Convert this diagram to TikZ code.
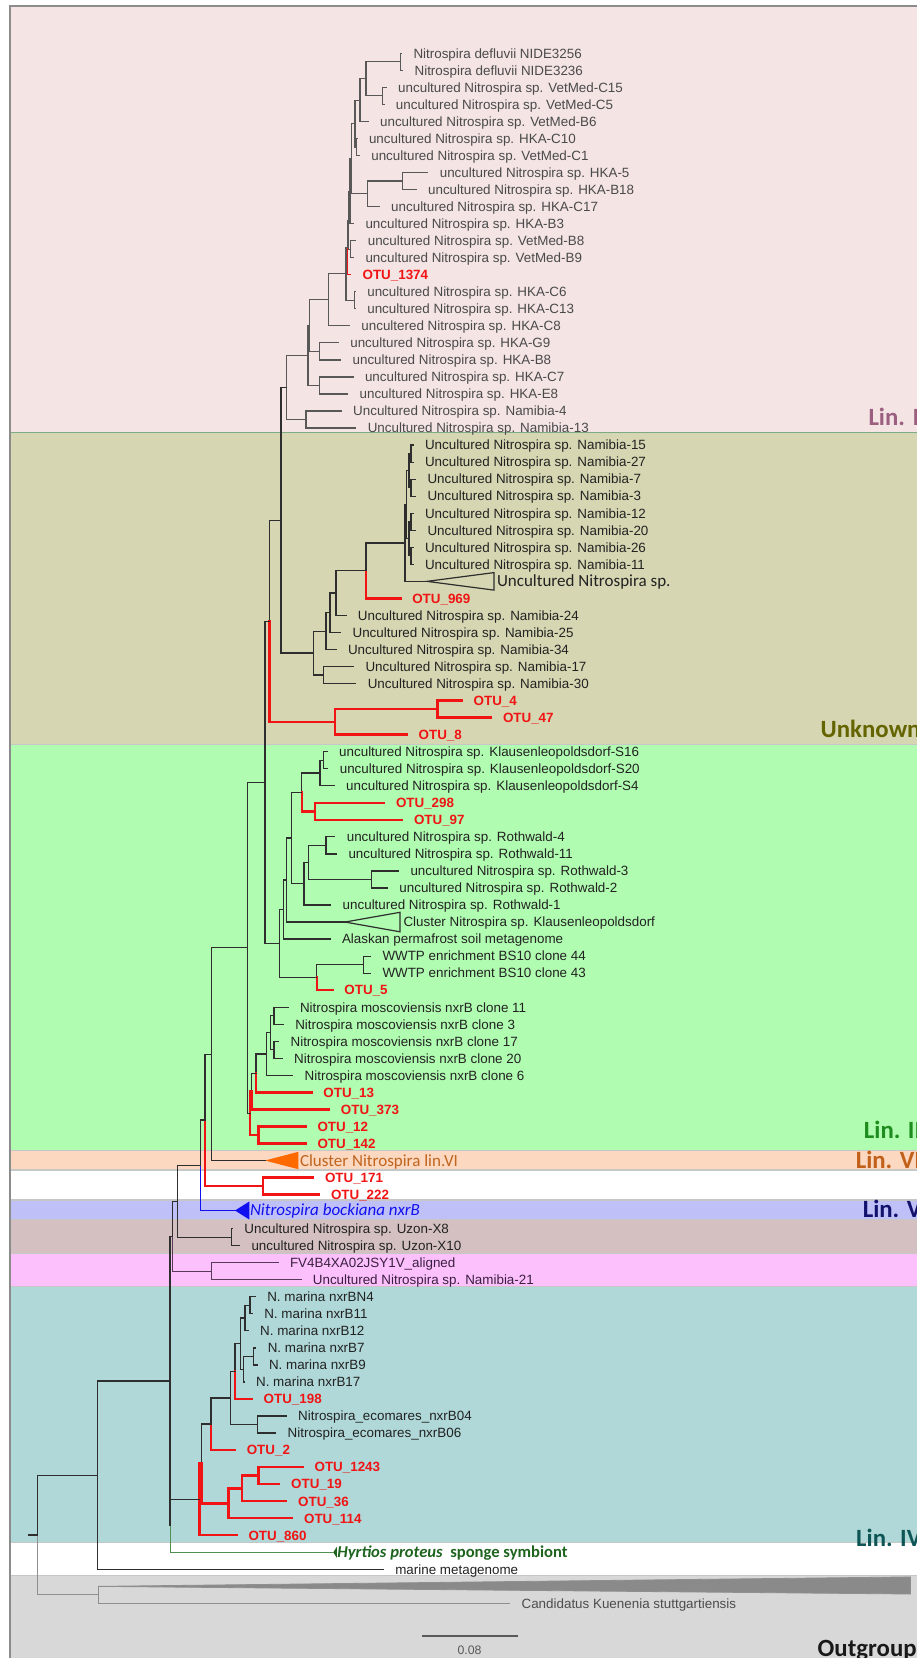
\documentclass[tikz,border=0pt]{standalone}
\usepackage{fontspec}
\setmainfont{Liberation Sans}
\newfontfamily\carl{Carlito}
\usetikzlibrary{calc}
\definecolor{txt}{HTML}{222222}
\definecolor{txtg}{HTML}{4A4A4A}
\definecolor{ln}{HTML}{2E2E2E}
\definecolor{lng}{HTML}{585858}
\definecolor{otured}{HTML}{F01414}
\definecolor{bLI}{HTML}{F4E4E4}
\definecolor{bUN}{HTML}{D6D6B2}
\definecolor{bLII}{HTML}{B0FCB0}
\definecolor{bLVI}{HTML}{FCD8C0}
\definecolor{bLV}{HTML}{C0C0F8}
\definecolor{bBR}{HTML}{D4C0C0}
\definecolor{bMG}{HTML}{FCC0FC}
\definecolor{bLIV}{HTML}{B0D8D8}
\definecolor{bOG}{HTML}{D8D8D8}
\definecolor{cLI}{HTML}{9C5F7F}
\definecolor{cUN}{HTML}{646400}
\definecolor{cLII}{HTML}{1E8C1E}
\definecolor{cLVI}{HTML}{C0601A}
\definecolor{cLV}{HTML}{12126E}
\definecolor{cLIV}{HTML}{0E5656}
\definecolor{orgtri}{HTML}{FF6A00}
\definecolor{orgtxt}{HTML}{C0641E}
\definecolor{blu}{HTML}{1010F0}
\definecolor{grn}{HTML}{4F8F4F}
\definecolor{grntxt}{HTML}{1E641E}
\definecolor{ogl}{HTML}{8F8F8F}
\definecolor{ogf}{HTML}{8A8A8A}
\definecolor{purp}{HTML}{3A2040}
\definecolor{purpl}{HTML}{5A3A5A}
\newcommand\tnd[4]{\path let \p1=($(#3)!.5!(#4)$) in (#2pt,\y1) coordinate (#1);}
\newcommand\tbr[3][]{\draw[tl,#1] (#2) |- (#3);}
\newcommand\tnn[5][]{\tnd{#2}{#3}{#4}{#5}\tbr[#1]{#2}{#4}\tbr[#1]{#2}{#5}}
\newcommand\tlf[5][]{\node[lfs,#1] (#2) at ({#4-12},{53.3+17.034*#3}) {#5};}
\tikzset{
  lfs/.style={anchor=west, inner xsep=12pt, inner ysep=0pt, outer sep=0pt,
    text height=9.6pt, text depth=0pt, font=\fontsize{13.4}{15}\selectfont, text=txt},
  gt/.style={text=txtg},
  pt/.style={text=purp},
  otu/.style={text=otured, font=\fontsize{13.4}{15}\selectfont\bfseries},
  bigl/.style={anchor=west, inner sep=0pt, outer sep=0pt, text height=11pt, text depth=0pt,
    font=\carl\fontsize{17}{19}\selectfont},
  tl/.style={draw=ln, line width=1.2pt, line cap=rect},
  gl/.style={draw=lng},
  pl/.style={draw=purpl},
  rd/.style={draw=otured, line width=2.4pt},
  rdt/.style={draw=otured, line width=1.3pt},
  bl/.style={draw=blu},
  gn/.style={draw=grn},
  og/.style={draw=ogl},
  lab/.style={anchor=base west, inner sep=0pt, font=\carl\bfseries\fontsize{24.8}{26}\selectfont},
  bnd/.style={draw=black!22, line width=1.2pt},
}
\begin{document}
\begin{tikzpicture}[x=1pt,y=-1pt]
\useasboundingbox (0,0) rectangle (917,1658);
% ---------- bands ----------
\fill[bLI] (10,6) rectangle (917,432.3);
\fill[bUN] (10,432.3) rectangle (917,744.3);
\fill[bLII] (10,744.3) rectangle (917,1150.7);
\fill[bLVI] (10,1150.7) rectangle (917,1170);
\fill[bLV] (10,1200) rectangle (917,1219.3);
\fill[bBR] (10,1219.3) rectangle (917,1253.7);
\fill[bMG] (10,1253.7) rectangle (917,1286.7);
\fill[bLIV] (10,1286.7) rectangle (917,1542.7);
\fill[bOG] (10,1575.7) rectangle (917,1658);
\foreach \yy in {744.3,1150.7,1170,1200,1219.3,1253.7,1286.7,1542.7,1575.7}
  \draw[bnd] (10,\yy) -- (917,\yy);
\draw[draw={rgb,255:red,125;green,170;blue,135}, line width=1.2pt] (10,432.3) -- (917,432.3);
\draw[draw=black!45, line width=2pt] (10,1658) -- (10,6) -- (917,6);
% ---------- lineage labels ----------
\node[lab, text=cLI] (labI) at (868.3,425) {Lin. I};
\node[lab, text=cUN] (labU) at (820.5,737) {Unknown};
\node[lab, text=cLII] (labII) at (863.7,1138.3) {Lin. II};
\node[lab, text=cLVI] (labVI) at (855.6,1168.5) {Lin. VI};
\node[lab, text=cLV] (labV) at (862.6,1217) {Lin. V};
\node[lab, text=cLIV] (labIV) at (856,1546.5) {Lin. IV};
\node[lab, text=black!90] (labO) at (817.5,1656.5) {Outgroup};
% ---------- leaves: Lin I ----------
\tlf[gt]{l0}{0}{413.5}{Nitrospira defluvii NIDE3256}
\tlf[gt]{l1}{1}{414.6}{Nitrospira defluvii NIDE3236}
\tlf[gt]{l2}{2}{398.2}{uncultured Nitrospira sp. VetMed-C15}
\tlf[gt]{l3}{3}{395.9}{uncultured Nitrospira sp. VetMed-C5}
\tlf[gt]{l4}{4}{380.1}{uncultured Nitrospira sp. VetMed-B6}
\tlf[gt]{l5}{5}{369.0}{uncultured Nitrospira sp. HKA-C10}
\tlf[gt]{l6}{6}{371.3}{uncultured Nitrospira sp. VetMed-C1}
\tlf[gt]{l7}{7}{439.8}{uncultured Nitrospira sp. HKA-5}
\tlf[gt]{l8}{8}{428.1}{uncultured Nitrospira sp. HKA-B18}
\tlf[gt]{l9}{9}{391.2}{uncultured Nitrospira sp. HKA-C17}
\tlf[gt]{l10}{10}{365.5}{uncultured Nitrospira sp. HKA-B3}
\tlf[gt]{l11}{11}{367.8}{uncultured Nitrospira sp. VetMed-B8}
\tlf[gt]{l12}{12}{365.5}{uncultured Nitrospira sp. VetMed-B9}
\tlf[otu]{l13}{13}{362.6}{OTU\_1374}
\tlf[gt]{l14}{14}{367.3}{uncultured Nitrospira sp. HKA-C6}
\tlf[gt]{l15}{15}{367.3}{uncultured Nitrospira sp. HKA-C13}
\tlf[gt]{l16}{16}{361.4}{uncultered Nitrospira sp. HKA-C8}
\tlf[gt]{l17}{17}{350.3}{uncultured Nitrospira sp. HKA-G9}
\tlf[gt]{l18}{18}{352.6}{uncultured Nitrospira sp. HKA-B8}
\tlf[gt]{l19}{19}{365.0}{uncultured Nitrospira sp. HKA-C7}
\tlf[gt]{l20}{20}{359.6}{uncultured Nitrospira sp. HKA-E8}
\tlf[gt]{l21}{21}{353.2}{Uncultured Nitrospira sp. Namibia-4}
\tlf[gt]{l22}{22}{367.8}{Uncultured Nitrospira sp. Namibia-13}
% ---------- leaves: Unknown ----------
\tlf{l23}{23}{425}{Uncultured Nitrospira sp. Namibia-15}
\tlf{l24}{24}{425}{Uncultured Nitrospira sp. Namibia-27}
\tlf{l25}{25}{427.5}{Uncultured Nitrospira sp. Namibia-7}
\tlf{l26}{26}{427.5}{Uncultured Nitrospira sp. Namibia-3}
\tlf{l27}{27}{425}{Uncultured Nitrospira sp. Namibia-12}
\tlf{l28}{28}{427.5}{Uncultured Nitrospira sp. Namibia-20}
\tlf{l29}{29}{425}{Uncultured Nitrospira sp. Namibia-26}
\tlf{l30}{30}{425}{Uncultured Nitrospira sp. Namibia-11}
\node[bigl, text=txt] (l31) at (497,581.35) {Uncultured Nitrospira sp.};
\coordinate (t31) at (427,581.35);
\draw[tl, line cap=butt, line join=miter] (t31) -- (494,572.6) -- (494,590.1) -- cycle;
\tlf[otu]{l32}{32}{412.3}{OTU\_969}
\tlf{l33}{33}{357.9}{Uncultured Nitrospira sp. Namibia-24}
\tlf{l34}{34}{352.6}{Uncultured Nitrospira sp. Namibia-25}
\tlf{l35}{35}{348}{Uncultured Nitrospira sp. Namibia-34}
\tlf{l36}{36}{365.5}{Uncultured Nitrospira sp. Namibia-17}
\tlf{l37}{37}{367.8}{Uncultured Nitrospira sp. Namibia-30}
\tlf[otu]{l38}{38}{473.7}{OTU\_4}
\tlf[otu]{l39}{39}{503}{OTU\_47}
\tlf[otu]{l40}{40}{418.7}{OTU\_8}
% ---------- leaves: Lin II ----------
\tlf{l41}{41}{339.2}{uncultured Nitrospira sp. Klausenleopoldsdorf-S16}
\tlf{l42}{42}{339.8}{uncultured Nitrospira sp. Klausenleopoldsdorf-S20}
\tlf{l43}{43}{346.2}{uncultured Nitrospira sp. Klausenleopoldsdorf-S4}
\tlf[otu]{l44}{44}{396}{OTU\_298}
\tlf[otu]{l45}{45}{414}{OTU\_97}
\tlf{l46}{46}{346.8}{uncultured Nitrospira sp. Rothwald-4}
\tlf{l47}{47}{348.5}{uncultured Nitrospira sp. Rothwald-11}
\tlf{l48}{48}{410.5}{uncultured Nitrospira sp. Rothwald-3}
\tlf{l49}{49}{399.4}{uncultured Nitrospira sp. Rothwald-2}
\tlf{l50}{50}{342.7}{uncultured Nitrospira sp. Rothwald-1}
\node[lfs, inner xsep=0pt] (l51) at (403.5,922.03) {Cluster Nitrospira sp. Klausenleopoldsdorf};
\coordinate (t51) at (345,922.03);
\draw[tl, line cap=butt, line join=miter] (t51) -- (400,912.3) -- (400,931.8) -- cycle;
\tlf{l52}{52}{342}{Alaskan permafrost soil metagenome}
\tlf{l53}{53}{382.5}{WWTP enrichment BS10 clone 44}
\tlf{l54}{54}{382.5}{WWTP enrichment BS10 clone 43}
\tlf[otu]{l55}{55}{344.4}{OTU\_5}
\tlf{l56}{56}{300}{Nitrospira moscoviensis nxrB clone 11}
\tlf{l57}{57}{295.3}{Nitrospira moscoviensis nxrB clone 3}
\tlf{l58}{58}{290.6}{Nitrospira moscoviensis nxrB clone 17}
\tlf{l59}{59}{294.2}{Nitrospira moscoviensis nxrB clone 20}
\tlf{l60}{60}{304.7}{Nitrospira moscoviensis nxrB clone 6}
\tlf[otu]{l61}{61}{323.4}{OTU\_13}
\tlf[otu]{l62}{62}{340.9}{OTU\_373}
\tlf[otu]{l63}{63}{317.5}{OTU\_12}
\tlf[otu]{l64}{64}{317.5}{OTU\_142}
% ---------- Lin VI / V / others ----------
\node[bigl, text=orgtxt] (l65) at (300,1160.51) {Cluster Nitrospira lin.VI};
\coordinate (t65) at (265,1160.51);
\fill[orgtri] (t65) -- (298.3,1151.8) -- (298.3,1169.2) -- cycle;
\tlf[otu]{l66}{66}{325}{OTU\_171}
\tlf[otu]{l67}{67}{331}{OTU\_222}
\node[bigl, text=blu, font=\carl\itshape\fontsize{17}{19}\selectfont] (l68) at (250,1210) {Nitrospira bockiana nxrB};
\coordinate (t68) at (235,1210.5);
\fill[blu] (t68) -- (249.3,1201.5) -- (249.3,1219.5) -- cycle;
\tlf{l69}{69}{244.4}{Uncultured Nitrospira sp. Uzon-X8}
\tlf{l70}{70}{251.5}{uncultured Nitrospira sp. Uzon-X10}
\tlf[pt]{l71}{71}{290}{FV4B4XA02JSY1V\_aligned}
\tlf[pt]{l72}{72}{312.9}{Uncultured Nitrospira sp. Namibia-21}
% ---------- leaves: Lin IV ----------
\tlf{l73}{73}{267.3}{N. marina nxrBN4}
\tlf{l74}{74}{264.3}{N. marina nxrB11}
\tlf{l75}{75}{260.2}{N. marina nxrB12}
\tlf{l76}{76}{267.8}{N. marina nxrB7}
\tlf{l77}{77}{269}{N. marina nxrB9}
\tlf{l78}{78}{256.1}{N. marina nxrB17}
\tlf[otu]{l79}{79}{263.7}{OTU\_198}
\tlf{l80}{80}{298.2}{Nitrospira\_ecomares\_nxrB04}
\tlf{l81}{81}{287.7}{Nitrospira\_ecomares\_nxrB06}
\tlf[otu]{l82}{82}{246.8}{OTU\_2}
\tlf[otu]{l83}{83}{314.6}{OTU\_1243}
\tlf[otu]{l84}{84}{291.2}{OTU\_19}
\tlf[otu]{l85}{85}{298.2}{OTU\_36}
\tlf[otu]{l86}{86}{304.1}{OTU\_114}
\tlf[otu]{l87}{87}{248.5}{OTU\_860}
\node[bigl, text=grntxt, font=\carl\bfseries\fontsize{16.6}{19}\selectfont] (l88) at (337.4,1552.29) {\textit{Hyrtios proteus}\ \ sponge symbiont};
\coordinate (t88) at (333.3,1552.29);
\fill[grntxt] (t88) -- (336.8,1546.8) -- (336.8,1557.8) -- cycle;
\tlf{l89}{89}{395.3}{marine metagenome}
\coordinate (t90) at (98.3,1586.36);
\filldraw[fill=ogf, draw=ogl, line width=0.8pt] (t90) -- (910.5,1576.9) -- (910.5,1594) -- cycle;
\tlf[text=black!70]{l91}{91}{521.6}{Candidatus Kuenenia stuttgartiensis}
% ---------- tree: Lin I ----------
\tnn[gl]{nA}{400.5}{l0}{l1}
\tnn[gl]{nB}{382.7}{l2}{l3}
\tnn[gl]{nC}{366}{nA}{nB}
\tnn[gl]{nD}{360}{nC}{l4}
\tnn[gl]{nE}{356.7}{l5}{l6}
\tnn[gl]{nF}{355}{nD}{nE}
\tnn[gl]{nG}{402.7}{l7}{l8}
\tnn[gl]{nH}{367.3}{nG}{l9}
\tnn[gl]{nU5}{351.7}{nF}{nH}
\tnn[gl]{nU6}{350}{nU5}{l10}
\tnn[gl]{nBB}{350.5}{l11}{l12}
\tnn[gl]{nU7}{348.5}{nU6}{nBB}
\tnd{nZ}{347.3}{nU7}{l13}
\tbr[gl]{nZ}{nU7}\tbr[rdt]{nZ}{l13}
\tnn[gl]{nCC}{354.5}{l14}{l15}
\tnn[gl]{nLI4}{346}{nZ}{nCC}
\tnn[gl]{nLI2}{328.3}{nLI4}{l16}
\tnn[gl]{nGB}{319.3}{l17}{l18}
\tnn[gl]{nLI1a}{309.3}{nLI2}{nGB}
\tnn[gl]{nCE}{319.3}{l19}{l20}
\tnn[gl]{nLI1}{308}{nLI1a}{nCE}
\tnn[gl]{nNM}{306}{l21}{l22}
\tnn[gl]{nLI0}{286.5}{nLI1}{nNM}
% ---------- tree: Unknown ----------
\tnn{nP1}{411}{l23}{l24}
\tnn{nP2}{411}{l25}{l26}
\tnn{nP12}{409}{nP1}{nP2}
\tnn{nP3}{411}{l27}{l28}
\tnn{nP4}{411}{l29}{l30}
\tnn{nP34}{409}{nP3}{nP4}
\tnn{nNC1}{406.7}{nP12}{nP34}
\tnn{nNC}{405}{nNC1}{t31}
\tnd{nUN5}{366}{nNC}{l32}
\tbr{nUN5}{nNC}\tbr[rd]{nUN5}{l32}
\tnn{nUN4}{336}{nUN5}{l33}
\tnn{nUN3}{330}{nUN4}{l34}
\tnn{nUN1}{326}{nUN3}{l35}
\tnn{nNP}{323.3}{l36}{l37}
\tnn{nUN0}{313.3}{nUN1}{nNP}
\tnn{nX1}{281}{nLI0}{nUN0}
\tnn[rd]{nRN2}{437.4}{l38}{l39}
\tnn[rd]{nRN1}{335}{nRN2}{l40}
\tnd{nX2}{269.3}{nX1}{nRN1}
\tbr{nX2}{nX1}\tbr[rd]{nX2}{nRN1}
% ---------- tree: Lin II ----------
\tnn{nK1}{323.3}{l41}{l42}
\tnn{nK2}{320}{nK1}{l43}
\tnn[rd]{nK3}{315}{l44}{l45}
\tnd{nK4}{301.7}{nK2}{nK3}
\tbr{nK4}{nK2}\tbr[rd]{nK4}{nK3}
\tnn{nR1}{326}{l46}{l47}
\tnn{nR2}{371.7}{l48}{l49}
\tnn{nR3}{308.3}{nR1}{nR2}
\tnn{nR4}{304}{nR3}{l50}
\tnn{nK5}{291.7}{nK4}{nR4}
\tnn{nK6}{286.7}{nK5}{t51}
\tnn{nK7}{283.3}{nK6}{l52}
\tnn{nWW}{363.3}{l53}{l54}
\tnd{nW}{316.7}{nWW}{l55}
\tbr{nW}{nWW}\tbr[rd]{nW}{l55}
\tnn{nK8}{279.3}{nK7}{nW}
\tnn{nX3}{265}{nX2}{nK8}
\tnn{nM1}{274}{l56}{l57}
\tnn{nM2}{274}{l58}{l59}
\tnn{nM3}{270.7}{nM1}{nM2}
\tnn{nM4}{266.7}{nM3}{l60}
\tnd{nM5}{256}{nM4}{l61}
\tbr{nM5}{nM4}\tbr[rd]{nM5}{l61}
\tnd{nM6}{251.7}{nM5}{l62}
\tbr{nM6}{nM5}\tbr[rd]{nM6}{l62}
\tnn[rd]{nP}{258.3}{l63}{l64}
\tnn[rd]{nM7}{250}{nM6}{nP}
\tnn{nX4}{247.3}{nX3}{nM7}
\tnn{nX5}{211.7}{nX4}{t65}
\tnn[rd]{nRP}{262.7}{l66}{l67}
\tnd{nX6}{205}{nX5}{nRP}
\tbr{nX6}{nX5}\tbr[rd]{nX6}{nRP}
\tnd{nX7}{200.7}{nX6}{t68}
\tbr{nX7}{nX6}\tbr[bl]{nX7}{t68}
\tnn{nUZ}{231.7}{l69}{l70}
\tnn{nX8}{177.7}{nX7}{nUZ}
\tnn[pl]{nFV}{211.7}{l71}{l72}
\tnd{nX9}{172.7}{nX8}{nFV}
\tbr{nX9}{nX8}\tbr[pl]{nX9}{nFV}
% ---------- tree: Lin IV ----------
\tnn{nMa1}{250}{l73}{l74}
\tnn{nMa2}{245}{nMa1}{l75}
\tnn{nMa3}{253.3}{l76}{l77}
\tnn{nMa4}{243.3}{nMa3}{l78}
\tnn{nMa}{240.7}{nMa2}{nMa4}
\tnd{nY6}{235}{nMa}{l79}
\tbr{nY6}{nMa}\tbr[rd]{nY6}{l79}
\tnn{nEC}{257.3}{l80}{l81}
\tnn{nY5}{230.7}{nY6}{nEC}
\tnd{nY3}{211}{nY5}{l82}
\tbr{nY3}{nY5}\tbr[rd]{nY3}{l82}
\tnn[rd]{nR12}{258.3}{l83}{l84}
\tnn[rd]{nR123}{241.7}{nR12}{l85}
\tnn[rd]{nRR}{228.3}{nR123}{l86}
\tnd{nY2}{201.5}{nY3}{nRR}
\tbr{nY2}{nY3}\tbr[rd]{nY2}{nRR}
\tnn[rd]{nY8}{199.5}{nY2}{l87}
\tnd{nX11}{170.3}{nY8}{t88}
\tbr{nX11}{nY8}\tbr[gn]{nX11}{t88}
\tnn{nX10}{170}{nX9}{nX11}
\tnn{nX12}{97.7}{nX10}{l89}
\tnn[og]{nO}{98.3}{t90}{l91}
\tnd{nX13}{37.7}{nX12}{nO}
\tbr{nX13}{nX12}\tbr[og]{nX13}{nO}
\path (nX13) ++(-9.4,0) coordinate (rt);
\draw[tl] (rt) -- (nX13);
% ---------- scale bar ----------
\coordinate (sb1) at (422,1636);
\coordinate (sb2) at (517.5,1636);
\draw[draw=black!65, line width=1.2pt] (sb1) -- (sb2);
\node[inner sep=0pt, text=black!65, font=\fontsize{12.3}{14}\selectfont] (sbl) at (469.5,1650.5) {0.08};
\end{tikzpicture}
\end{document}
